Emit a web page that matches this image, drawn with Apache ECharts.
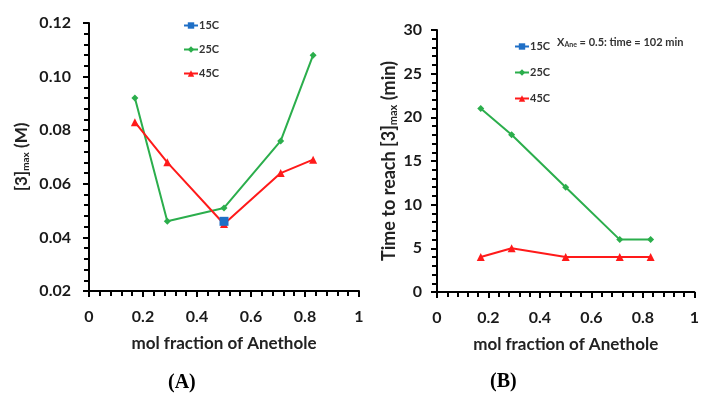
<!DOCTYPE html>
<html>
<head>
    <meta charset="utf-8">
    <title>Anethole</title>
    <script src="https://cdn.jsdelivr.net/npm/echarts@6/dist/echarts.min.js"></script>
    <style>
        html, body { margin: 0; padding: 0; background: #ffffff; }
        #main { width: 702px; height: 397px; }
    </style>
</head>
<body>
<div id="main"></div>
<script>
    // mol fraction of anethole
    var molFrac = [0.17, 0.29, 0.5, 0.71, 0.83];

    // (A) [3]max (M)
    var conc15 = [0.046];          // only at x = 0.5
    var conc25 = [0.092, 0.046, 0.051, 0.076, 0.108];
    var conc45 = [0.083, 0.068, 0.045, 0.064, 0.069];

    // (B) time to reach [3]max (min)
    var time25 = [21, 18, 12, 6, 6];
    var time45 = [4, 5, 4, 4, 4];

    var blue = '#1f6fc6', green = '#2bae4c', red = '#ff1a1a';
    var font = 'Lato';

    function pairs(xs, ys) {
        return ys.map(function (v, i) { return [xs[i], v]; });
    }

    function xAx(grid) {
        return {
            type: 'value', gridIndex: grid, min: 0, max: 1, interval: 0.2,
            name: 'mol fraction of Anethole', nameLocation: 'middle', nameGap: 44,
            nameTextStyle: { fontFamily: font, fontWeight: 'bold', fontSize: 17, color: '#222' },
            axisLine: { lineStyle: { color: '#000', width: 2 } },
            axisTick: { show: true, inside: false, length: 6, lineStyle: { color: '#000', width: 2 } },
            minorTick: { show: true, splitNumber: 5, length: 5, lineStyle: { color: '#000', width: 2 } },
            axisLabel: { margin: 18, fontFamily: font, fontWeight: 'bold', fontSize: 16, color: '#1a1a1a',
                formatter: function (v) { return String(+v.toFixed(1)); } },
            splitLine: { show: false }
        };
    }

    function legendAt(left, top, gap) {
        return {
            orient: 'vertical', left: left, top: top, itemGap: gap,
            itemWidth: 14, itemHeight: 8,
            textStyle: { fontFamily: font, fontWeight: 'bold', fontSize: 11, color: '#333', padding: [0, 0, 0, -4] },
            data: ['15C', '25C', '45C']
        };
    }

    var chart = echarts.init(document.getElementById('main'), null, { renderer: 'canvas' });

    var option = {
        backgroundColor: '#fff',
        animation: false,
        grid: [
            { left: 89, top: 23, width: 270, height: 268 },
            { left: 437, top: 30, width: 263, height: 262 }
        ],
        legend: [legendAt(178, 15, 13), legendAt(509, 36, 15)],
        xAxis: [xAx(0), xAx(1)],
        yAxis: [
            {
                type: 'value', gridIndex: 0, min: 0.02, max: 0.12, interval: 0.02,
                name: '{a|[3]}{s|max}{a| (M)}', nameLocation: 'middle', nameGap: 58, nameRotate: 90,
                nameTextStyle: {
                    rich: {
                        a: { fontFamily: font, fontWeight: 'bold', fontSize: 17, color: '#222' },
                        s: { fontFamily: font, fontWeight: 'bold', fontSize: 10, color: '#222', padding: [8, 0, 0, 0] }
                    }
                },
                axisLine: { show: true, lineStyle: { color: '#000', width: 2 } },
                axisTick: { show: true, length: 6, lineStyle: { color: '#000', width: 2 } },
                minorTick: { show: true, splitNumber: 5, length: 5, lineStyle: { color: '#000', width: 2 } },
                axisLabel: { margin: 18, fontFamily: font, fontWeight: 'bold', fontSize: 16, color: '#1a1a1a',
                    formatter: function (v) { return v.toFixed(2); } },
                splitLine: { show: false }
            },
            {
                type: 'value', gridIndex: 1, min: 0, max: 30, interval: 5,
                name: '{a|Time to reach [3]}{s|max}{a| (min)}', nameLocation: 'middle', nameGap: 38, nameRotate: 90,
                nameTextStyle: {
                    rich: {
                        a: { fontFamily: font, fontWeight: 'bold', fontSize: 18, color: '#222' },
                        s: { fontFamily: font, fontWeight: 'bold', fontSize: 11, color: '#222', padding: [8, 0, 0, 0] }
                    }
                },
                axisLine: { show: true, lineStyle: { color: '#000', width: 2 } },
                axisTick: { show: true, length: 6, lineStyle: { color: '#000', width: 2 } },
                minorTick: { show: true, splitNumber: 5, length: 5, lineStyle: { color: '#000', width: 2 } },
                axisLabel: { margin: 15, fontFamily: font, fontWeight: 'bold', fontSize: 16, color: '#1a1a1a' },
                splitLine: { show: false }
            }
        ],
        series: [
            {
                name: '15C', type: 'line', xAxisIndex: 0, yAxisIndex: 0,
                data: pairs([0.5], conc15), symbol: 'rect', symbolSize: 9,
                itemStyle: { color: blue }, lineStyle: { color: blue, width: 2 }, z: 5
            },
            {
                name: '25C', type: 'line', xAxisIndex: 0, yAxisIndex: 0,
                data: pairs(molFrac, conc25), symbol: 'diamond', symbolSize: 7,
                itemStyle: { color: green }, lineStyle: { color: green, width: 2 }
            },
            {
                name: '45C', type: 'line', xAxisIndex: 0, yAxisIndex: 0,
                data: pairs(molFrac, conc45), symbol: 'triangle', symbolSize: 8,
                itemStyle: { color: red }, lineStyle: { color: red, width: 2 }
            },
            {
                name: '15C', type: 'line', xAxisIndex: 1, yAxisIndex: 1,
                data: [], symbol: 'rect', symbolSize: 9,
                itemStyle: { color: blue }, lineStyle: { color: blue, width: 2 }
            },
            {
                name: '25C', type: 'line', xAxisIndex: 1, yAxisIndex: 1,
                data: pairs(molFrac, time25), symbol: 'diamond', symbolSize: 7,
                itemStyle: { color: green }, lineStyle: { color: green, width: 2 }
            },
            {
                name: '45C', type: 'line', xAxisIndex: 1, yAxisIndex: 1,
                data: pairs(molFrac, time45), symbol: 'triangle', symbolSize: 8,
                itemStyle: { color: red }, lineStyle: { color: red, width: 2 }
            }
        ],
        graphic: [
            {
                type: 'text', left: 557, top: 37,
                style: {
                    text: '{a|X}{s|Ane}{a| = 0.5: time = 102 min}',
                    rich: {
                        a: { fontFamily: font, fontWeight: 'bold', fontSize: 11, fill: '#333' },
                        s: { fontFamily: font, fontWeight: 'bold', fontSize: 7, fill: '#333', padding: [5, 0, 0, 0] }
                    }
                }
            },
            {
                type: 'text', left: 168, top: 373,
                style: { text: '(A)', fontFamily: 'Liberation Serif', fontWeight: 'bold', fontSize: 20, fill: '#000' }
            },
            {
                type: 'text', left: 490, top: 372,
                style: { text: '(B)', fontFamily: 'Liberation Serif', fontWeight: 'bold', fontSize: 20, fill: '#000' }
            }
        ]
    };

    chart.setOption(option);
    window.onresize = function () {
        chart.resize();
    };
</script>
</body>
</html>
